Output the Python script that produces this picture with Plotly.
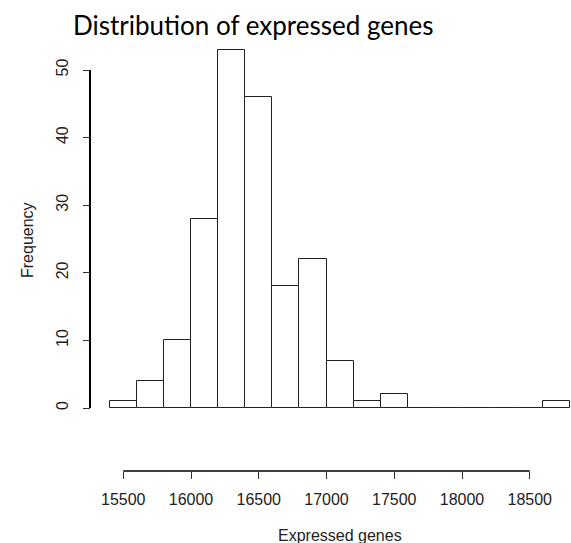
import plotly.graph_objects as go

# Histogram data (bin edges every 200)
bin_starts = [15400, 15600, 15800, 16000, 16200, 16400, 16600, 16800, 17000,
              17200, 17400, 17600, 17800, 18000, 18200, 18400, 18600]
counts = [1, 4, 10, 28, 53, 46, 18, 22, 7, 1, 2, 0, 0, 0, 0, 0, 1]
bin_width = 200
x_ticks = [15500, 16000, 16500, 17000, 17500, 18000, 18500]
y_ticks = [0, 10, 20, 30, 40, 50]

W, H = 571, 543
# pixel mapping targets
x_px_per_unit = (570.4 - 109.7) / (18800 - 15400)
x0 = 15400 - 109.7 / x_px_per_unit
x1 = x0 + W / x_px_per_unit
y_px_per_unit = (408 - 70) / 50
y0 = -(H - 408) / y_px_per_unit
y1 = y0 + H / y_px_per_unit

yaxis_pos = 90 / W
xaxis_pos = (H - 471) / H
# data-coordinate equivalents of the offset axis lines
xaxis_y = y0 + (H - 471) / y_px_per_unit
yaxis_x = x0 + 90 / x_px_per_unit

centers = [b + bin_width / 2 for b in bin_starts]

fig = go.Figure()
fig.add_trace(go.Bar(
    x=centers, y=counts, width=[bin_width] * len(counts),
    marker=dict(color="white", line=dict(color="#222", width=1)),
    hoverinfo="skip",
))
# axis lines (R style: span first to last tick)
fig.add_trace(go.Scatter(
    x=[x_ticks[0], x_ticks[-1]], y=[xaxis_y, xaxis_y], mode="lines",
    line=dict(color="black", width=1.5), hoverinfo="skip",
))
fig.add_trace(go.Scatter(
    x=[yaxis_x, yaxis_x], y=[y_ticks[0], y_ticks[-1]], mode="lines",
    line=dict(color="black", width=2), hoverinfo="skip",
))

axis_font = dict(family="Liberation Sans, Arial, sans-serif", size=16, color="#222")

fig.update_layout(
    width=W, height=H,
    margin=dict(l=0, r=0, t=0, b=0),
    paper_bgcolor="white", plot_bgcolor="white",
    showlegend=False,
    bargap=0,
    xaxis=dict(
        domain=[0, 1], range=[x0, x1], anchor="free", position=xaxis_pos,
        showgrid=False, zeroline=False, showline=False,
        tickmode="array", tickvals=x_ticks, ticktext=[str(v) for v in x_ticks],
        ticks="outside", ticklen=7, tickcolor="#333", tickwidth=1,
        tickfont=axis_font, ticklabelstandoff=7, automargin=False,
    ),
    yaxis=dict(
        domain=[0, 1], range=[y0, y1], anchor="free", position=yaxis_pos,
        showgrid=False, zeroline=False, showline=False,
        tickmode="array", tickvals=y_ticks, ticktext=[str(v) for v in y_ticks],
        ticks="outside", ticklen=7, tickcolor="#333", tickwidth=1,
        tickangle=-90, tickfont=axis_font, ticklabelstandoff=9, automargin=False,
    ),
    annotations=[
        dict(text="Distribution of expressed genes", xref="paper", yref="paper",
             x=253 / W, y=1 - 25 / H, xanchor="center", yanchor="middle",
             showarrow=False, font=dict(family="Lato, Open Sans, sans-serif", size=26, color="black")),
        dict(text="Expressed genes", xref="paper", yref="paper",
             x=340 / W, y=1 - 535 / H, xanchor="center", yanchor="middle",
             showarrow=False, font=axis_font),
        dict(text="Frequency", xref="paper", yref="paper",
             x=27 / W, y=1 - 240 / H, xanchor="center", yanchor="middle",
             textangle=-90, showarrow=False, font=axis_font),
    ],
)

fig.write_html("out.html")
